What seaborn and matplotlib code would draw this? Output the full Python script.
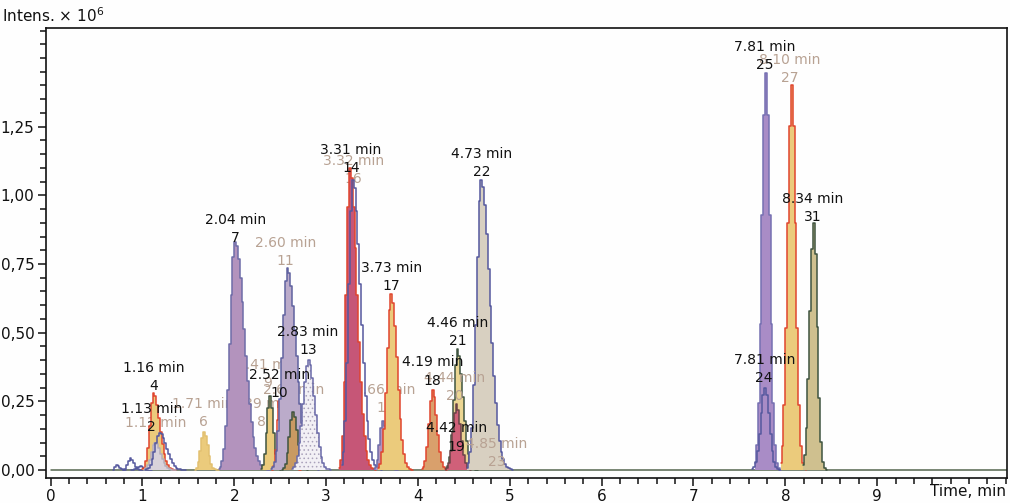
import matplotlib
matplotlib.use("Agg")
import matplotlib.pyplot as plt
from matplotlib.ticker import FixedLocator, MultipleLocator, FuncFormatter
import numpy as np
import pandas as pd
import seaborn as sns

sns.set_theme(style="ticks")
plt.rcParams.update({"font.family": ["DejaVu Sans"], "hatch.linewidth": 0.6})

YEL, RED, PUR, BLU, GRN, TAN = "#ebcb7c", "#e0452e", "#b393bd", "#55589e", "#3f5440", "#b8a293"

# peak table: apex time, apex height (x10^6), left/right half widths at half height, fill, outline
PEAK_RT = [0.72, 0.87, 0.98, 1.12, 1.14, 1.19, 1.67, 2.01, 2.39, 2.49, 2.58, 2.64, 2.81,
           3.26, 3.29, 3.62, 3.71, 4.16, 4.43, 4.42, 4.69, 7.79, 7.78, 8.07, 8.31]
PEAK_H = [0.02, 0.042, 0.015, 0.28, 0.10, 0.134, 0.14, 0.83, 0.27, 0.25, 0.735, 0.21, 0.40,
          1.10, 1.055, 0.18, 0.64, 0.29, 0.44, 0.24, 1.056, 1.445, 0.30, 1.40, 0.90]
PEAK_HWL = [0.02, 0.035, 0.04, 0.045, 0.05, 0.06, 0.04, 0.065, 0.04, 0.03, 0.065, 0.045, 0.07,
            0.045, 0.05, 0.04, 0.055, 0.045, 0.045, 0.045, 0.06, 0.05, 0.055, 0.05, 0.05]
PEAK_HWR = [0.035, 0.045, 0.04, 0.08, 0.07, 0.09, 0.05, 0.12, 0.04, 0.08, 0.11, 0.055, 0.08,
            0.09, 0.10, 0.05, 0.075, 0.055, 0.07, 0.055, 0.11, 0.05, 0.055, 0.05, 0.045]
PEAK_FILL = [None, None, None, YEL, "#d9d2da", None, YEL, PUR, YEL, None, "#bbabca", "#c99a62", "#f2f0f5",
             "#c65677", None, PUR, YEL, "#d9a06c", "#ebd592", "#d06079", "#d8d0c1", "#a98cc6", None, YEL, "#cfc08f"]
PEAK_EDGE = [BLU, BLU, BLU, RED, "#b6aebb", BLU, "#e2c070", "#6e6ca8", GRN, RED, "#6062a0", GRN, "#6a6aa8",
             RED, BLU, "#6e6ca8", RED, RED, GRN, "#6a4448", BLU, "#7670b2", BLU, RED, GRN]

# annotations
LABEL_TIME = ["1.16", "1.13", "1.12", "1.71", "2.04", "2.60", "2.41", "2.63", "2.39", "2.52", "2.83",
              "3.31", "3.32", "3.66", "3.73", "4.19", "4.46", "4.44", "4.42", "4.85", "4.73",
              "7.81", "8.10", "7.81", "8.34"]
LABEL_NUM = ["4", "2", "3", "6", "7", "11", "9", "12", "8", "10", "13",
             "14", "16", "15", "17", "18", "21", "20", "19", "23", "22",
             "25", "27", "24", "31"]
LABEL_X = [1.12, 1.10, 1.14, 1.66, 2.01, 2.56, 2.36, 2.65, 2.30, 2.49, 2.80,
           3.27, 3.30, 3.64, 3.71, 4.16, 4.43, 4.40, 4.42, 4.86, 4.69,
           7.78, 8.05, 7.77, 8.30]
LABEL_Y = [0.29, 0.14, 0.09, 0.16, 0.83, 0.745, 0.30, 0.21, 0.16, 0.265, 0.42,
           1.085, 1.045, 0.21, 0.655, 0.31, 0.455, 0.255, 0.07, 0.015, 1.07,
           1.46, 1.41, 0.32, 0.905]
LABEL_DARK = [1, 1, 0, 0, 1, 0, 0, 0, 0, 1, 1,
              1, 0, 0, 1, 1, 1, 0, 1, 0, 1,
              1, 0, 1, 1]

fig = plt.figure(figsize=(10.1, 5.03), dpi=100)
fig.patch.set_facecolor("#fefefe")
ax = fig.add_axes([0.0452, 0.0497, 0.9515, 0.8940])
ax.set_facecolor("#fefefe")

ax.plot([0, 10.45], [0, 0], color="#55664f", lw=1.1, zorder=1)

step = 0.02
for i, (rt, h, wl, wr) in enumerate(zip(PEAK_RT, PEAK_H, PEAK_HWL, PEAK_HWR)):
    t = rt + np.arange(-int(2.8 * wl / step), int(3.2 * wr / step) + 1) * step
    w = np.where(t < rt, wl, wr)
    df = pd.DataFrame({"t": t, "i": h * np.exp(-np.log(2) * ((t - rt) / w) ** 2)})
    z = 2 + i * 0.1
    if PEAK_FILL[i] is not None:
        if i == 12:
            ax.fill_between(df.t, 0, df.i, step="mid", facecolor=PEAK_FILL[i], edgecolor="#aaa2bb",
                            hatch="....", lw=0, zorder=z)
        else:
            ax.fill_between(df.t, 0, df.i, step="mid", color=PEAK_FILL[i], lw=0, zorder=z)
    sns.lineplot(data=df, x="t", y="i", ax=ax, color=PEAK_EDGE[i], lw=1.1, estimator=None,
                 drawstyle="steps-mid", zorder=z + 0.05)

# grey labels sit under the traces (as in the export), except the two right of the 4.4 cluster
for tm, num, x, y, dark in zip(LABEL_TIME, LABEL_NUM, LABEL_X, LABEL_Y, LABEL_DARK):
    zl = 10 if dark else (4.05 if num in ("20", "23") else 1.5)
    ax.annotate(f"{tm} min\n{num}", (x, y), xytext=(0, -2), textcoords="offset points",
                ha="center", va="bottom", ma="center", fontsize=10, linespacing=1.38,
                color="#111111" if dark else TAN, zorder=zl)

ax.set_xlim(-0.054, 10.41)
ax.set_ylim(-0.029, 1.608)
ax.xaxis.set_major_locator(FixedLocator(range(10)))
ax.xaxis.set_minor_locator(MultipleLocator(0.2))
ax.yaxis.set_major_locator(FixedLocator([0, 0.25, 0.5, 0.75, 1.0, 1.25]))
ax.yaxis.set_minor_locator(MultipleLocator(0.05))
ax.xaxis.set_major_formatter(FuncFormatter(lambda v, p: f"{v:.0f}"))
ax.yaxis.set_major_formatter(FuncFormatter(lambda v, p: f"{v:.2f}".replace(".", ",")))
ax.tick_params(which="both", direction="out", color="#111111", width=1.1, labelsize=11,
               labelcolor="#111111", top=False, right=False)
ax.tick_params(which="major", length=6, pad=2)
ax.tick_params(which="minor", length=4)
for s in ax.spines.values():
    s.set_visible(True)
    s.set_color("#111111")
    s.set_linewidth(1.2)
ax.set_xlabel("")
ax.set_ylabel("")

fig.text(0.002, 0.957, r"Intens. $\times$ 10$^{6}$", fontsize=11, color="#111111", va="baseline")
fig.text(0.996, 0.008, "Time, min", fontsize=11, color="#111111", ha="right", va="bottom")

fig.savefig("out.png", dpi=100, facecolor=fig.get_facecolor())
